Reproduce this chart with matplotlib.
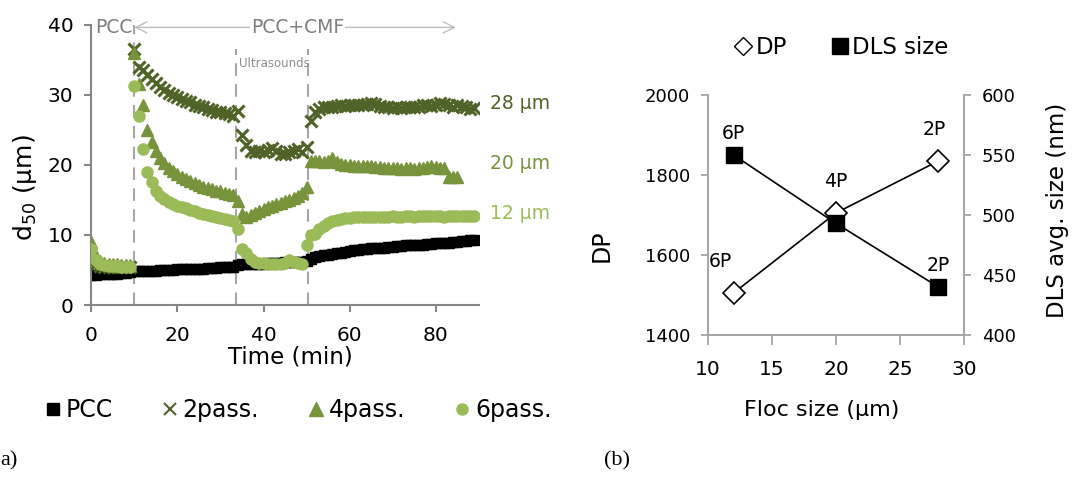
import matplotlib
matplotlib.use("Agg")
import matplotlib.pyplot as plt
from matplotlib.lines import Line2D

plt.rcParams['font.family'] = ['DejaVu Sans']

# ---- (a) d50 vs time, one reading per minute ----
pcc = [4.3, 4.3, 4.4, 4.4, 4.5, 4.5, 4.5, 4.6, 4.6, 4.7,
       4.8, 4.8, 4.8, 4.9, 4.9, 4.9, 5.0, 5.0, 5.0, 5.0,
       5.1, 5.1, 5.1, 5.1, 5.2, 5.2, 5.2, 5.3, 5.3, 5.3,
       5.4, 5.4, 5.5, 5.5, 5.7, 5.8, 5.8, 5.8, 5.9, 5.9,
       5.9, 6.0, 6.0, 6.0, 6.0, 6.1, 6.1, 6.1, 6.2, 6.2,
       6.3, 6.6, 6.8, 7.0, 7.1, 7.2, 7.3, 7.4, 7.5, 7.6,
       7.7, 7.8, 7.9, 8.0, 8.0, 8.1, 8.1, 8.2, 8.2, 8.3,
       8.3, 8.4, 8.4, 8.5, 8.5, 8.6, 8.6, 8.6, 8.7, 8.7,
       8.8, 8.8, 8.9, 8.9, 9.0, 9.0, 9.1, 9.2, 9.3, 9.3]

pass2 = [6.0, 5.8, 5.6, 5.5, 5.5, 5.5, 5.4, 5.4, 5.4, 5.4,
         36.5, 34.0, 33.5, 32.8, 32.2, 31.6, 31.1, 30.7, 30.3, 30.0,
         29.7, 29.4, 29.1, 28.9, 28.6, 28.4, 28.2, 28.0, 27.8, 27.6,
         27.5, 27.4, 27.2, 27.0, 27.7, 24.2, 22.8, 22.0, 21.9, 22.0,
         21.8, 22.1, 22.4, 22.0, 21.5, 21.6, 21.8, 22.0, 22.3, 21.8,
         22.5, 26.2, 27.6, 28.0, 28.2, 28.3, 28.3, 28.4, 28.5, 28.4,
         28.5, 28.6, 28.5, 28.6, 28.7, 28.8, 28.7, 28.4, 28.2, 28.2,
         28.1, 28.2, 28.1, 28.2, 28.3, 28.2, 28.3, 28.5, 28.6, 28.4,
         28.6, 28.8, 28.7, 28.5, 28.3, 28.5, 28.4, 28.2, 28.0, 28.1]

pass4 = [9.0, 7.0, 6.3, 6.0, 5.9, 5.8, 5.8, 5.7, 5.7, 5.7,
         36.0, 31.5, 28.5, 25.0, 23.3, 22.0, 21.0, 20.2, 19.6, 19.1,
         18.7, 18.3, 18.0, 17.7, 17.4, 17.1, 16.9, 16.7, 16.5, 16.3,
         16.2, 16.0, 15.9, 15.7, 14.8, 13.0, 12.6, 12.8, 13.1, 13.4,
         13.7, 14.0, 14.2, 14.4, 14.6, 14.8, 15.0, 15.3, 15.6, 16.0,
         16.8, 20.5, 20.6, 20.5, 20.4, 20.6, 21.0, 20.4, 20.1, 20.0,
         20.0, 19.9, 19.9, 19.9, 19.8, 19.8, 19.7, 19.7, 19.6, 19.6,
         19.5, 19.5, 19.4, 19.5, 19.5, 19.4, 19.5, 19.6, 19.7, 19.8,
         19.7, 19.6, 19.5, 18.2, 18.2, 18.2]

pass6 = [8.0, 6.5, 5.9, 5.7, 5.6, 5.6, 5.6, 5.5, 5.5, 5.5,
         31.3, 27.0, 22.3, 19.0, 17.5, 16.3, 15.6, 15.1, 14.7, 14.4,
         14.2, 14.0, 13.8, 13.6, 13.4, 13.2, 13.0, 12.9, 12.7, 12.6,
         12.4, 12.3, 12.1, 12.0, 10.9, 8.0, 7.4, 6.6, 6.2, 6.0,
         6.0, 5.9, 5.9, 5.8, 5.9, 6.0, 6.4, 6.2, 6.0, 5.9,
         8.6, 10.0, 10.2, 10.8, 11.3, 11.7, 12.0, 12.2, 12.3, 12.4,
         12.4, 12.5, 12.5, 12.5, 12.6, 12.5, 12.6, 12.6, 12.6, 12.6,
         12.7, 12.6, 12.6, 12.7, 12.7, 12.6, 12.7, 12.7, 12.7, 12.7,
         12.7, 12.7, 12.6, 12.7, 12.7, 12.7, 12.7, 12.7, 12.7, 12.7]

phase_lines = [10, 33.7, 50.4]
floc_labels = ["28 µm", "20 µm", "12 µm"]
floc_label_y = [28.7, 20.2, 13.0]

# ---- (b) DP and DLS vs floc size ----
floc_size = [12, 20, 28]
dp = [1505, 1705, 1835]
dls = [550, 493, 440]
pass_tags = ["6P", "4P", "2P"]

c2, c4, c6 = '#4F6228', '#77933C', '#9BBB59'
grey = '#A6A6A6'

fig = plt.figure(figsize=(10.73, 4.82), dpi=100)

# ---------------- panel (a) ----------------
ax = fig.add_axes([0.0851, 0.367, 0.3611, 0.582])
ax.plot(range(len(pcc)), pcc, 's', color='black', ms=7, ls='none', zorder=2)
ax.plot(range(len(pass2)), pass2, 'x', color=c2, ms=9, mew=2.2, ls='none', zorder=3)
ax.plot(range(len(pass4)), pass4, '^', color=c4, ms=9, ls='none', zorder=3)
ax.plot(range(len(pass6)), pass6, 'o', color=c6, ms=8, ls='none', zorder=3)

ax.set_xlim(0, 90)
ax.set_ylim(0, 40)
ax.set_xticks([0, 20, 40, 60, 80])
ax.set_yticks([0, 10, 20, 30, 40])
for s in ['top', 'right']:
    ax.spines[s].set_visible(False)
for s in ['left', 'bottom']:
    ax.spines[s].set_color('#868686')
    ax.spines[s].set_linewidth(1.5)
ax.tick_params(colors='#868686', labelcolor='black', labelsize=14.5, width=1.5, length=5, pad=8)
ax.tick_params(axis='x', pad=10)
ax.set_xlabel('Time (min)', fontsize=16.5)
ax.xaxis.set_label_coords(0.515, -0.145)
ax.set_ylabel(r'd$_{\mathregular{50}}$ (µm)', fontsize=18)
ax.yaxis.set_label_coords(-0.135, 0.42)

ax.plot([phase_lines[0]] * 2, [0, 40], ls=(0, (6, 4)), color=grey, lw=1.5, zorder=1)
for xv in phase_lines[1:]:
    ax.plot([xv] * 2, [0, 36.5], ls=(0, (6, 4)), color=grey, lw=1.5, zorder=1)

ax.text(5.3, 39.6, 'PCC', color='#7F7F7F', fontsize=13.5, ha='center', va='center', clip_on=False)
ax.annotate('', xy=(10, 39.6), xytext=(84.7, 39.6),
            arrowprops=dict(arrowstyle='<->', color='#BFBFBF', lw=1, mutation_scale=20,
                            shrinkA=0, shrinkB=0), annotation_clip=False)
ax.text(47.9, 39.6, 'PCC+CMF', color='#7F7F7F', fontsize=13.5, ha='center', va='center',
        bbox=dict(facecolor='white', edgecolor='none', pad=1), clip_on=False)
ax.text(34.4, 34.4, 'Ultrasounds', color='#8C8C8C', fontsize=8.5, ha='left', va='center')

for lab, yv, col in zip(floc_labels, floc_label_y, [c2, c4, c6]):
    ax.text(92.7, yv, lab, color=col, fontsize=13.5, ha='left', va='center', clip_on=False)

handles = [Line2D([], [], marker='s', color='black', ls='none', ms=8),
           Line2D([], [], marker='x', color=c2, ls='none', ms=8, mew=1.5),
           Line2D([], [], marker='^', color=c4, ls='none', ms=10),
           Line2D([], [], marker='o', color=c6, ls='none', ms=8)]
fig.legend(handles, ['PCC', '2pass.', '4pass.', '6pass.'], ncol=4, frameon=False,
           fontsize=17, loc='center', bbox_to_anchor=(0.276, 0.149),
           handletextpad=0.05, columnspacing=1.9, handlelength=1.0)

# ---------------- panel (b) ----------------
bx = fig.add_axes([0.6598, 0.305, 0.2386, 0.498])
bx2 = bx.twinx()
bx.plot(floc_size, dp, '-D', color='black', mfc='white', mec='black', ms=11, mew=1.2,
        lw=1.2, zorder=3)
bx2.plot(floc_size, dls, '-s', color='black', ms=11, lw=1.2, zorder=3)
bx.set_xlim(10, 30)
bx.set_ylim(1400, 2000)
bx2.set_ylim(400, 600)
bx.set_xticks([10, 15, 20, 25, 30])
bx.set_yticks([1400, 1600, 1800, 2000])
bx2.set_yticks([400, 450, 500, 550, 600])
for a in (bx, bx2):
    a.spines['top'].set_visible(False)
    for s in ['left', 'right', 'bottom']:
        a.spines[s].set_color('#A6A6A6')
        a.spines[s].set_linewidth(1.3)
    a.tick_params(colors='#A6A6A6', labelcolor='black', labelsize=13, width=1.3, length=5, pad=8)
bx.tick_params(axis='x', length=7, pad=11, labelsize=14.5)
bx.set_xlabel('Floc size (µm)', fontsize=16)
bx.xaxis.set_label_coords(0.445, -0.27)
bx.set_ylabel('DP', fontsize=17)
bx.yaxis.set_label_coords(-0.37, 0.37)
bx2.set_ylabel('DLS avg. size (nm)', fontsize=16.5)
bx2.yaxis.set_label_coords(1.32, 0.52)

dp_offsets = [(-1.0, 55), (0, 55), (-0.3, 55)]
for xv, yv, tag, (dx, dy) in zip(floc_size, dp, pass_tags, dp_offsets):
    bx.text(xv + dx, yv + dy, tag, fontsize=13.5, ha='center', va='bottom')
for xv, yv, tag in zip(floc_size, dls, pass_tags):
    if tag == '4P':
        continue
    bx2.text(xv, yv + 10, tag, fontsize=13.5, ha='center', va='bottom')

lh = [Line2D([], [], marker='D', color='black', mfc='white', ls='none', ms=9),
      Line2D([], [], marker='s', color='black', ls='none', ms=11)]
fig.legend(lh, ['DP', 'DLS size'], ncol=2, frameon=False, fontsize=16.5, loc='center',
           bbox_to_anchor=(0.783, 0.902), handletextpad=0.05, columnspacing=1.8,
           handlelength=1.0)

# panel tags
fig.text(0.0, 0.035, 'a)', family='Liberation Serif', fontsize=16)
fig.text(0.563, 0.035, '(b)', family='Liberation Serif', fontsize=16)

fig.savefig('out.png', dpi=100)
